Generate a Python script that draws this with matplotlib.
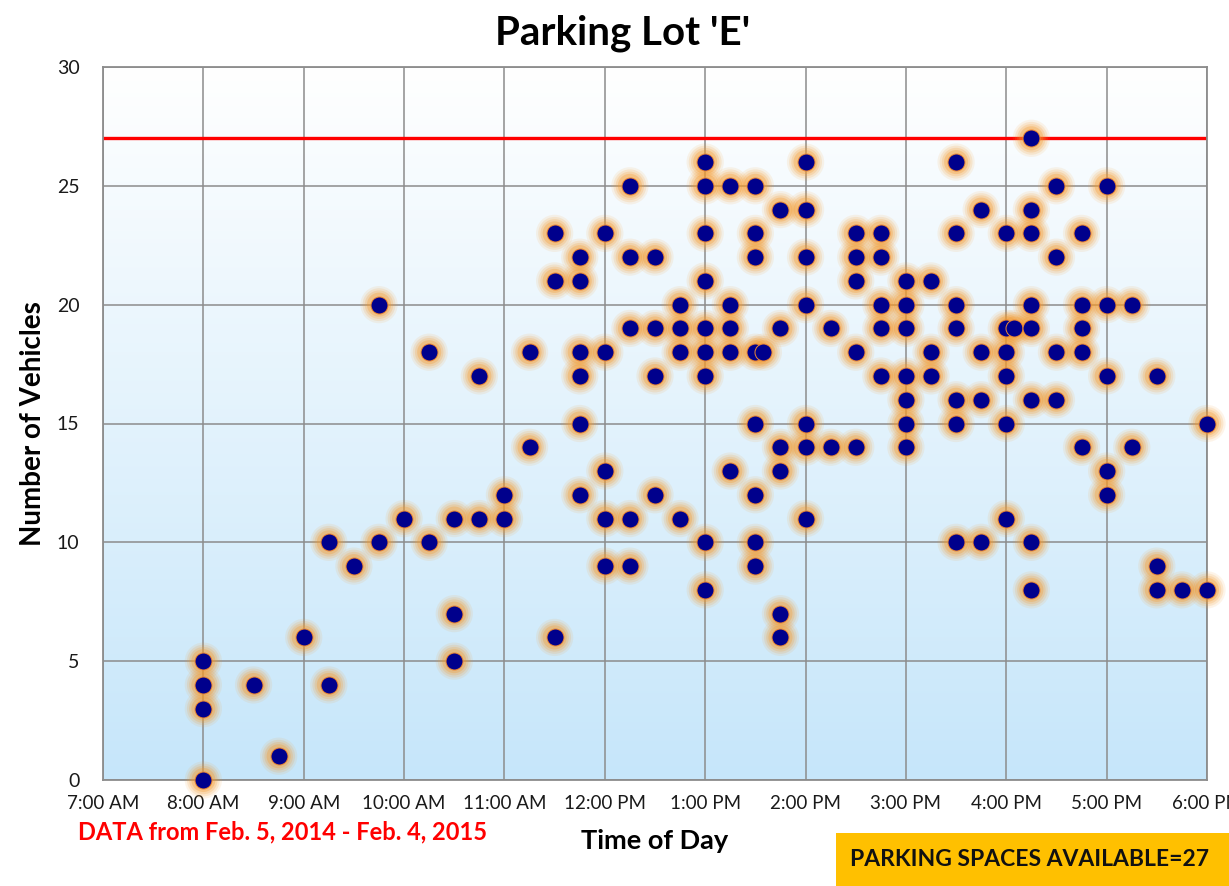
import numpy as np
import matplotlib
matplotlib.use("Agg")
import matplotlib.pyplot as plt
from matplotlib.patches import Rectangle

plt.rcParams['font.family'] = ['Lato', 'DejaVu Sans']

# ---- data (time in decimal hours, vehicles counted) ----
time_hours = [
    8.0, 8.0, 8.0, 8.0,
    8.5, 8.75, 9.0,
    9.25, 9.25,
    9.5,
    9.75, 9.75,
    10.0,
    10.25, 10.25,
    10.5, 10.5, 10.5,
    10.75, 10.75,
    11.0, 11.0,
    11.25, 11.25,
    11.5, 11.5, 11.5,
    11.75, 11.75, 11.75, 11.75, 11.75, 11.75,
    12.0, 12.0, 12.0, 12.0, 12.0,
    12.25, 12.25, 12.25, 12.25, 12.25,
    12.5, 12.5, 12.5, 12.5,
    12.75, 12.75, 12.75, 12.75,
    13.0, 13.0, 13.0, 13.0, 13.0, 13.0, 13.0, 13.0, 13.0,
    13.25, 13.25, 13.25, 13.25, 13.25,
    13.5, 13.5, 13.5, 13.5, 13.5, 13.5, 13.5, 13.5,
    13.58,
    13.75, 13.75, 13.75, 13.75, 13.75, 13.75,
    14.0, 14.0, 14.0, 14.0, 14.0, 14.0, 14.0,
    14.25, 14.25,
    14.5, 14.5, 14.5, 14.5, 14.5,
    14.75, 14.75, 14.75, 14.75, 14.75,
    15.0, 15.0, 15.0, 15.0, 15.0, 15.0, 15.0,
    15.25, 15.25, 15.25,
    15.5, 15.5, 15.5, 15.5, 15.5, 15.5, 15.5,
    15.75, 15.75, 15.75, 15.75,
    16.0, 16.0, 16.0, 16.0, 16.0, 16.0,
    16.08,
    16.25, 16.25, 16.25, 16.25, 16.25, 16.25, 16.25, 16.25,
    16.5, 16.5, 16.5, 16.5,
    16.75, 16.75, 16.75, 16.75, 16.75,
    17.0, 17.0, 17.0, 17.0, 17.0,
    17.25, 17.25,
    17.5, 17.5, 17.5,
    17.75,
    18.0, 18.0,
]
vehicle_counts = [
    5, 4, 3, 0,
    4, 1, 6,
    10, 4,
    9,
    20, 10,
    11,
    18, 10,
    11, 7, 5,
    17, 11,
    12, 11,
    18, 14,
    23, 21, 6,
    22, 21, 18, 17, 15, 12,
    23, 18, 13, 11, 9,
    25, 22, 19, 11, 9,
    22, 19, 17, 12,
    20, 19, 18, 11,
    26, 25, 23, 21, 19, 18, 17, 10, 8,
    25, 20, 19, 18, 13,
    25, 23, 22, 18, 15, 12, 10, 9,
    18,
    24, 19, 14, 13, 7, 6,
    26, 24, 22, 20, 15, 14, 11,
    19, 14,
    23, 22, 21, 18, 14,
    23, 22, 20, 19, 17,
    21, 20, 19, 17, 16, 15, 14,
    21, 18, 17,
    26, 23, 20, 19, 16, 15, 10,
    24, 18, 16, 10,
    23, 19, 18, 17, 15, 11,
    19,
    27, 24, 23, 20, 19, 16, 10, 8,
    25, 22, 18, 16,
    23, 20, 19, 18, 14,
    25, 20, 17, 13, 12,
    20, 14,
    17, 9, 8,
    8,
    15, 8,
]
capacity = 27
x_tick_hours = [7, 8, 9, 10, 11, 12, 13, 14, 15, 16, 17, 18]
x_tick_labels = ['7:00 AM', '8:00 AM', '9:00 AM', '10:00 AM', '11:00 AM', '12:00 PM',
                 '1:00 PM', '2:00 PM', '3:00 PM', '4:00 PM', '5:00 PM', '6:00 PM']
y_ticks = [0, 5, 10, 15, 20, 25, 30]

W, H = 1229, 886
fig = plt.figure(figsize=(W / 100, H / 100), dpi=100)
ax = fig.add_axes([103 / W, 1 - 780 / H, (1207 - 103) / W, (780 - 67) / H])
ax.set_xlim(7, 18)
ax.set_ylim(0, 30)

# gradient background
grad = np.linspace(0, 1, 256).reshape(-1, 1)
top = np.array([1.0, 1.0, 1.0])
bot = np.array([0xC6, 0xE6, 0xFA]) / 255
img = top * (1 - grad[..., None]) + bot * grad[..., None]
img = img.reshape(256, 1, 3)
ax.imshow(img, extent=[0, 1, 0, 1], transform=ax.transAxes, aspect='auto', zorder=0)

grid_c = '#8c8c8c'
for h in x_tick_hours:
    ax.axvline(h, color=grid_c, lw=1.1, zorder=1)
for v in y_ticks:
    ax.axhline(v, color=grid_c, lw=1.1, zorder=1)
for s in ax.spines.values():
    s.set_color(grid_c)
    s.set_linewidth(1.3)

# capacity line
ax.axhline(capacity, color='#ff0000', lw=2.4, zorder=2)

x = np.array(time_hours)
y = np.array(vehicle_counts)
# glow
for size, a in [(720, 0.10), (560, 0.15), (420, 0.20), (300, 0.30)]:
    ax.scatter(x, y, s=size, color='#f59a2c', alpha=a, edgecolors='none', zorder=3, clip_on=False)
ax.scatter(x, y, s=150, color='#00008c', edgecolors='#f08a30', linewidths=0.7, zorder=4, clip_on=False)

ax.set_xticks(x_tick_hours)
ax.set_xticklabels(x_tick_labels, fontsize=13.5, color='#1a1a1a')
ax.set_yticks(y_ticks)
ax.set_yticklabels([str(v) for v in y_ticks], fontsize=14, color='#1a1a1a')
ax.tick_params(axis='both', length=0)
ax.tick_params(axis='x', pad=11)
ax.tick_params(axis='y', pad=17)

ax.set_xlabel('Time of Day', fontsize=19.5, fontweight='bold', labelpad=12)
ax.set_ylabel('Number of Vehicles', fontsize=20, fontweight='bold', labelpad=8)
fig.text(623 / W, 1 - 33 / H, "Parking Lot 'E'", fontsize=29, fontweight='bold',
         ha='center', va='center')

fig.text(283 / W, 1 - 832 / H, 'DATA from Feb. 5, 2014 - Feb. 4, 2015', fontsize=17,
         fontweight='bold', color='#ff0000', ha='center', va='center')
fig.patches.append(Rectangle((836 / W, 0), (W - 836) / W, (886 - 833) / H,
                             transform=fig.transFigure, facecolor='#ffc000',
                             edgecolor='none', zorder=0))
fig.text(1030 / W, 1 - 860 / H, 'PARKING SPACES AVAILABLE=27', fontsize=16.5,
         fontweight='bold', color='#111111', ha='center', va='center')

fig.savefig('out.png', dpi=100)
